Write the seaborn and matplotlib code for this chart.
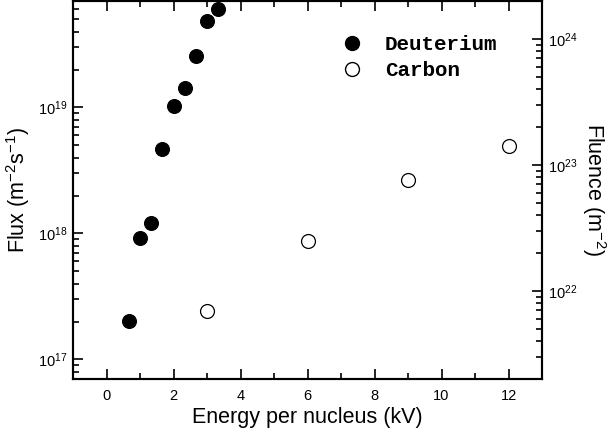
import matplotlib
matplotlib.use("Agg")
import matplotlib.pyplot as plt
import seaborn as sns
import pandas as pd
import numpy as np
from matplotlib.ticker import LogLocator, MultipleLocator, NullFormatter
from matplotlib.lines import Line2D

sns.set_style("ticks")
plt.rcParams['font.family'] = ['Liberation Sans', 'DejaVu Sans']
plt.rcParams['mathtext.fontset'] = 'custom'
plt.rcParams['mathtext.rm'] = 'Liberation Sans'
plt.rcParams['mathtext.it'] = 'Liberation Sans:italic'
for k in ['text.color', 'axes.labelcolor', 'xtick.color', 'ytick.color', 'axes.edgecolor']:
    plt.rcParams[k] = 'black'

# Data
d_energy = [0.67, 1.0, 1.33, 1.67, 2.0, 2.33, 2.67, 3.0, 3.33]
d_flux = [2.03e17, 9.2e17, 1.22e18, 4.67e18, 1.02e19, 1.42e19, 2.54e19, 4.87e19, 6.07e19]
c_energy = [3, 6, 9, 12]
c_fluence = [6.9e21, 2.48e22, 7.55e22, 1.42e23]

df_d = pd.DataFrame({"energy": d_energy, "flux": d_flux})
df_c = pd.DataFrame({"energy": c_energy, "fluence": c_fluence})

fig = plt.figure(figsize=(6.12, 4.36), dpi=100)
ax = fig.add_axes([73/612, 1 - 379/436, (542-73)/612, 378/436])
ax2 = ax.twinx()

sns.scatterplot(data=df_d, x="energy", y="flux", ax=ax, s=100, color="black",
                edgecolor="black", linewidth=0.8, marker="o", legend=False, zorder=3)
sns.scatterplot(data=df_c, x="energy", y="fluence", ax=ax2, s=100, facecolor="white",
                edgecolor="black", linewidth=0.9, marker="o", legend=False, zorder=3)

ax.set_yscale("log")
ax2.set_yscale("log")
ax.set_xlim(-1, 13)
ax.set_ylim(7e16, 7e19)
ax2.set_ylim(2e21, 2e24)

ax.xaxis.set_major_locator(MultipleLocator(2))
ax.xaxis.set_minor_locator(MultipleLocator(1))
for a in (ax, ax2):
    a.yaxis.set_major_locator(LogLocator(base=10, numticks=10))
    a.yaxis.set_minor_locator(LogLocator(base=10, subs=np.arange(2, 10), numticks=20))
    a.yaxis.set_minor_formatter(NullFormatter())

ax.tick_params(axis="x", which="both", direction="in", top=True, labelsize=10.5, pad=7)
ax.tick_params(axis="x", which="major", length=7, width=1.2)
ax.tick_params(axis="x", which="minor", length=4, width=1.2)
ax.tick_params(axis="y", which="major", direction="in", length=7, width=1.2, labelsize=10.5, pad=4)
ax.tick_params(axis="y", which="minor", direction="in", length=4, width=1.2)
ax2.tick_params(axis="y", which="major", direction="in", length=7, width=1.2, labelsize=10.5, pad=4)
ax2.tick_params(axis="y", which="minor", direction="in", length=4, width=1.2)

for a in (ax, ax2):
    for sp in a.spines.values():
        sp.set_visible(True)
        sp.set_linewidth(1.5)
        sp.set_color("black")

ax.set_xlabel("Energy per nucleus (kV)", fontsize=15.5, labelpad=3)
ax.set_ylabel("Flux (m$^{-2}$s$^{-1}$)", fontsize=15.5, labelpad=4)
ax2.set_ylabel("Fluence (m$^{-2}$)", fontsize=15.5, rotation=270, labelpad=22)

handles = [
    Line2D([], [], marker="o", linestyle="none", markersize=10, markerfacecolor="black",
           markeredgecolor="black", label="Deuterium"),
    Line2D([], [], marker="o", linestyle="none", markersize=10, markerfacecolor="white",
           markeredgecolor="black", label="Carbon"),
]
ax2.legend(handles=handles, loc="upper left", bbox_to_anchor=(0.51, 0.96), frameon=False,
           prop={"family": "Liberation Mono", "weight": "bold", "size": 15},
           handletextpad=0.6, labelspacing=0.35)

fig.savefig("out.png", dpi=100)
